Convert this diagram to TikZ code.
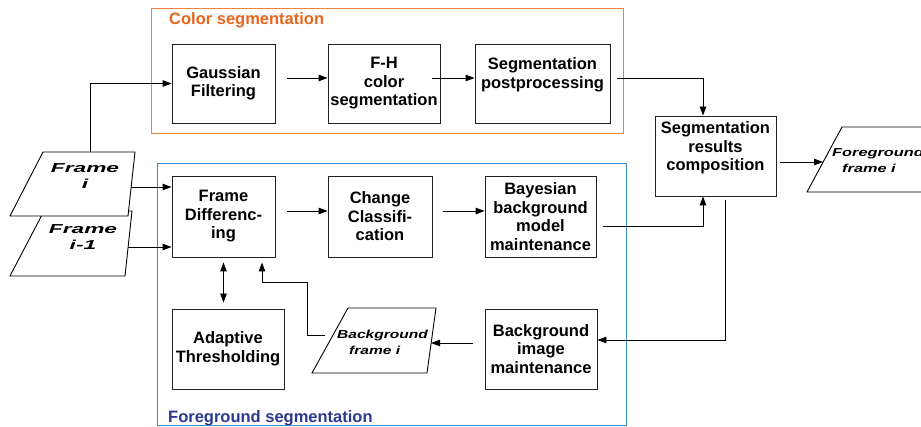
\documentclass[tikz,border=0pt]{standalone}
\usepackage{fontspec}
\setmainfont{Liberation Sans}
\newfontfamily\frfont{Liberation Sans}[FakeStretch=1.75]
\newfontfamily\bgfont{Liberation Sans}[FakeStretch=1.34]
\newfontfamily\fgfont{Liberation Sans}[FakeStretch=1.42]
\usetikzlibrary{arrows.meta}
\definecolor{orgline}{HTML}{E8843E}
\definecolor{orgtext}{HTML}{E8661C}
\definecolor{blueline}{HTML}{3C8DC5}
\definecolor{bluetext}{HTML}{2B3990}
\definecolor{boxline}{HTML}{222222}
\begin{document}
\begin{tikzpicture}[x=1pt,y=-1pt,
  stepbox/.style={draw=boxline, line width=0.9pt, inner sep=0pt, align=center,
    font=\fontsize{16.5}{18.5}\selectfont\bfseries},
  arr/.style={draw=black, line width=0.9pt, -{Triangle[length=9pt,width=6.5pt]}},
  darr/.style={draw=black, line width=0.9pt, {Triangle[length=9pt,width=6.5pt]}-{Triangle[length=9pt,width=6.5pt]}},
  frm/.style={draw=black, line width=0.9pt, fill=white},
  grplabel/.style={anchor=base west, inner sep=0pt, font=\fontsize{16.5}{18.5}\selectfont\bfseries}
]
\useasboundingbox[fill=white] (0,0) rectangle (921,427);

% group frames
\draw[orgline, line width=0.9pt] (151,8) rectangle (623,133);
\node[grplabel, text=orgtext] (lcolor) at (169,25) {Color segmentation};
\draw[blueline, line width=0.9pt] (157,163) rectangle (626,425);
\node[grplabel, text=bluetext] (lfore) at (168,422) {Foreground segmentation};

% boxes
\node[stepbox, minimum width=103pt, minimum height=79pt] (gauss) at (223.5,83.5) {Gaussian\\Filtering};
\node[stepbox, minimum width=112pt, minimum height=79pt] (fh) at (384,83.5) {F-H\\color\\segmentation};
\node[stepbox, minimum width=135pt, minimum height=79pt] (spp) at (542.5,83.5) {Segmentation\\postprocessing\\[2pt]};
\node[stepbox, minimum width=121pt, minimum height=80pt] (comp) at (715.5,156) {Segmentation\\results\\composition\\[1pt]};
\node[stepbox, minimum width=103pt, minimum height=81pt] (fd) at (223.5,216.5) {Frame\\Differenc-\\ing};
\node[stepbox, minimum width=104pt, minimum height=81pt] (cc) at (380,216.5) {Change\\Classifi-\\cation};
\node[stepbox, minimum width=111pt, minimum height=81pt] (bay) at (540.5,216.5) {Bayesian\\background\\model\\maintenance};
\node[stepbox, minimum width=112pt, minimum height=80pt] (at) at (228,349) {Adaptive\\Thresholding};
\node[stepbox, minimum width=112pt, minimum height=80pt] (bim) at (541,349) {Background\\image\\maintenance};

% input frames
\draw[frm] (44,211) -- (132,211) -- (125,276) -- (10,276) -- cycle;
\node[inner sep=0pt, align=center, font=\frfont\fontsize{13}{16}\selectfont\bfseries\itshape] (fim1) at (83,237) {Frame\\i-1};
\draw[frm] (43,152) -- (135,152) -- (128,216) -- (10,216) -- cycle;
\node[inner sep=0pt, align=center, font=\frfont\fontsize{13}{16}\selectfont\bfseries\itshape] (fi) at (85,176) {Frame\\i};
\coordinate (fiTop) at (90,152);
\coordinate (fiR) at (131,187);
\coordinate (fim1R) at (128,247);

% background frame
\draw[frm] (348,308) -- (436,308) -- (427,373) -- (312,373) -- cycle;
\node[inner sep=0pt, align=left, anchor=west, font=\bgfont\fontsize{11.6}{16}\selectfont\bfseries\itshape] (bgf) at (337,342) {Background\\\hspace*{12pt}frame i};
\coordinate (bfR) at (431,343);
\coordinate (bfL) at (325,335);

% foreground frame
\draw[frm] (842,127) -- (933,127) -- (923,192) -- (807,192) -- cycle;
\node[inner sep=0pt, align=left, anchor=west, font=\fgfont\fontsize{11.5}{16}\selectfont\bfseries\itshape] (fgf) at (832,160) {Foreground\\\hspace*{10pt}frame i};
\coordinate (ffL) at (823,162);

% connectors
\draw[arr] (fiTop) |- (gauss.west);
\draw[arr] (fiR) -- (fiR -| fd.west);
\draw[arr] (fim1R) -- (fim1R -| fd.west);
\draw[arr] ([xshift=12pt,yshift=5.5pt]gauss.east) -- ([yshift=5.5pt]fh.west);
\draw[arr] ([xshift=-8pt,yshift=5.5pt]fh.east) -- ([yshift=5.5pt]spp.west);
\draw[arr] ([xshift=7pt,yshift=5.5pt]spp.east) -| ([xshift=-12.5pt]comp.north);
\draw[arr] ([xshift=4pt,yshift=-6pt]comp.east) -- (ffL);
\draw[arr] ([xshift=12pt,yshift=5.5pt]fd.east) -- ([yshift=5.5pt]cc.west);
\draw[arr] ([xshift=11pt,yshift=5.5pt]cc.east) -- ([yshift=5.5pt]bay.west);
\draw[arr] ([xshift=7pt,yshift=-9.5pt]bay.east) -| ([xshift=-12.5pt]comp.south);
\draw[arr] ([xshift=9.5pt,yshift=-4pt]comp.south) |- ([yshift=9pt]bim.east);
\draw[arr] ([xshift=-12pt,yshift=6pt]bim.west) -- (bfR);
\coordinate (k1) at (307,282);
\draw[arr] (bfL) -| (k1) -| ([xshift=38.5pt,yshift=-5pt]fd.south);
\draw[darr] ([yshift=-5pt]fd.south) -- ([yshift=6pt]fd.south |- at.north);
\end{tikzpicture}
\end{document}
